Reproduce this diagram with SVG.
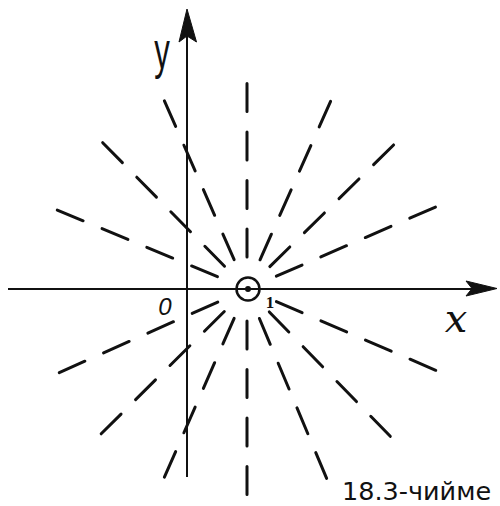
<svg xmlns="http://www.w3.org/2000/svg" width="500" height="506" viewBox="0 0 500 506">
<style>
.axis{stroke:#111;stroke-width:2;fill:none}
.head{fill:#111;stroke:#111;stroke-width:1;stroke-linejoin:round}
.ray{stroke:#111;stroke-width:3;stroke-linecap:round;stroke-dasharray:28 20.5;fill:none}
.lbl{fill:#111}
</style>
<rect width="500" height="506" fill="#fff"/>
<g id="axes">
<line class="axis" x1="8" y1="289" x2="475" y2="289"/>
<polygon class="head" points="497,288.5 466,281 472,288.5 466,296"/>
<line class="axis" x1="187" y1="477" x2="187" y2="36"/>
<polygon class="head" points="187,9 196.5,42 187,36 179,42"/>
</g>
<g id="rays" transform="translate(247,289)">
<line class="ray" x1="32" y1="0" x2="206" y2="0" transform="rotate(-23.5)"/>
<line class="ray" x1="32" y1="0" x2="206" y2="0" transform="rotate(-44.5)"/>
<line class="ray" x1="32" y1="0" x2="206" y2="0" transform="rotate(-66)"/>
<line class="ray" x1="32" y1="0" x2="206" y2="0" transform="rotate(-90)"/>
<line class="ray" x1="32" y1="0" x2="206" y2="0" transform="rotate(-113.7)"/>
<line class="ray" x1="32" y1="0" x2="206" y2="0" transform="rotate(-134.6)"/>
<line class="ray" x1="32" y1="0" x2="206" y2="0" transform="rotate(-157.4)"/>
<line class="ray" x1="32" y1="0" x2="206" y2="0" transform="rotate(-204)"/>
<line class="ray" x1="32" y1="0" x2="206" y2="0" transform="rotate(-224.8)"/>
<line class="ray" x1="32" y1="0" x2="206" y2="0" transform="rotate(-246.3)"/>
<line class="ray" x1="32" y1="0" x2="206" y2="0" transform="rotate(-270)"/>
<line class="ray" x1="32" y1="0" x2="206" y2="0" transform="rotate(-292.8)"/>
<line class="ray" x1="32" y1="0" x2="206" y2="0" transform="rotate(-314.2)"/>
<line class="ray" x1="32" y1="0" x2="206" y2="0" transform="rotate(-336.7)"/>
</g>
<g id="source">
<circle cx="248" cy="289" r="11.5" fill="none" stroke="#111" stroke-width="2.5"/>
<circle cx="248" cy="289" r="3" fill="#111"/>
</g>
<g id="labels">
<text class="lbl" x="0" y="0" font-family="Liberation Sans, sans-serif" font-size="52" text-anchor="middle" transform="translate(162,68) scale(0.6,1)">y</text>
<text class="lbl" x="456" y="332" font-family="DejaVu Serif, serif" font-style="italic" font-size="40" text-anchor="middle">x</text>
<text class="lbl" x="165" y="315" font-family="Liberation Sans, sans-serif" font-style="italic" font-size="24" text-anchor="middle">0</text>
<text class="lbl" x="270" y="308" font-family="Liberation Serif, serif" font-weight="bold" font-size="17" text-anchor="middle">1</text>
<text class="lbl" x="342" y="500" font-family="DejaVu Sans, sans-serif" font-size="25.5">18.3-чийме</text>
</g>
</svg>
